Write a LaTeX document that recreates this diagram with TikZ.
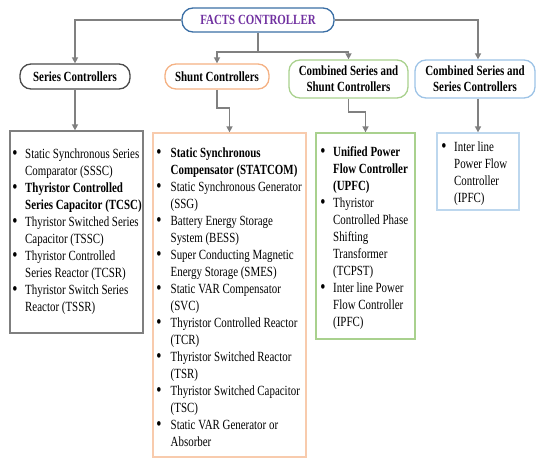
\documentclass[tikz,border=0pt]{standalone}
\usepackage{fontspec}
\setmainfont{Liberation Serif}[FakeStretch=0.78]
\usetikzlibrary{arrows.meta}
\definecolor{factsblue}{HTML}{3A6EA5}
\definecolor{factspurple}{HTML}{7030A0}
\definecolor{conngray}{HTML}{808080}
\definecolor{sergray}{HTML}{4A4A4A}
\definecolor{serlist}{HTML}{7F7F7F}
\definecolor{shorange}{HTML}{F4B183}
\definecolor{shlist}{HTML}{F8CBAD}
\definecolor{grn}{HTML}{A9D18E}
\definecolor{blu}{HTML}{9DC3E6}
\definecolor{blulist}{HTML}{BDD7EE}
\newcommand\lstfont{\fontsize{14}{17}\selectfont}
\newcommand\hdrfont{\bfseries\fontsize{14}{16}\selectfont}
\newcommand\bulglyph{{\fontsize{17}{17}\selectfont\bfseries\textbullet}}
\newcommand\bu{\makebox[12.5pt][l]{\bulglyph}}
\newcommand\ind{\hspace*{12.5pt}}
\newcommand\bus{\makebox[14pt][l]{\bulglyph}}
\newcommand\inds{\hspace*{14pt}}
\begin{document}
\begin{tikzpicture}[x=1pt,y=-1pt,
  hdr/.style={draw, line width=1.3pt, rounded corners=11pt, inner sep=0pt, align=center, font=\hdrfont},
  listbox/.style={draw, line width=1.3pt, inner sep=0pt},
  listtext/.style={anchor=north west, inner sep=0pt, align=left, font=\lstfont},
  conn/.style={draw=conngray, line width=1.5pt, -{Triangle[width=6pt,length=6pt]}},
  plain/.style={draw=conngray, line width=1.5pt}]
\useasboundingbox (0,0) rectangle (537,458);
% headers
\node[hdr, draw=factsblue, text=factspurple, minimum width=152pt, minimum height=24pt] (facts) at (258,20) {FACTS CONTROLLER};
\node[hdr, draw=sergray, minimum width=110pt, minimum height=25pt] (sh) at (75,76.5) {Series Controllers};
\node[hdr, draw=shorange, minimum width=104pt, minimum height=25pt] (shh) at (217,76.5) {Shunt Controllers};
\node[hdr, draw=grn, minimum width=119pt, minimum height=38pt] (gh) at (348.5,79) {Combined Series and\\Shunt Controllers};
\node[hdr, draw=blu, minimum width=120pt, minimum height=38pt] (bh) at (475,79) {Combined Series and\\Series Controllers};
% list boxes
\node[listbox, draw=serlist, minimum width=133pt, minimum height=202pt] (sl) at (76.5,232) {};
\node[listbox, draw=shlist, minimum width=153pt, minimum height=324pt] (shl) at (229.5,295) {};
\node[listbox, draw=grn, minimum width=99pt, minimum height=206pt] (gl) at (365.5,236) {};
\node[listbox, draw=blulist, minimum width=82pt, minimum height=77pt] (bl) at (478,171.5) {};
% list texts
\node[listtext] (slt) at (12.5,146.6) {\strut\bu Static Synchronous Series\\
\ind Comparator (SSSC)\\
\bu\textbf{Thyristor Controlled}\\
\ind\textbf{Series Capacitor (TCSC)}\\
\bu Thyristor Switched Series\\
\ind Capacitor (TSSC)\\
\bu Thyristor Controlled\\
\ind Series Reactor (TCSR)\\
\bu Thyristor Switch Series\\
\ind Reactor (TSSR)};
\node[listtext] (shlt) at (156.5,145.6) {\strut\bus\textbf{Static Synchronous}\\
\inds\textbf{Compensator (STATCOM)}\\
\bus Static Synchronous Generator\\
\inds(SSG)\\
\bus Battery Energy Storage\\
\inds System (BESS)\\
\bus Super Conducting Magnetic\\
\inds Energy Storage (SMES)\\
\bus Static VAR Compensator\\
\inds(SVC)\\
\bus Thyristor Controlled Reactor\\
\inds(TCR)\\
\bus Thyristor Switched Reactor\\
\inds(TSR)\\
\bus Thyristor Switched Capacitor\\
\inds(TSC)\\
\bus Static VAR Generator or\\
\inds Absorber};
\node[listtext] (glt) at (320.5,144.6) {\strut\bu\textbf{Unified Power}\\
\ind\textbf{Flow Controller}\\
\ind\textbf{(UPFC)}\\
\bu Thyristor\\
\ind Controlled Phase\\
\ind Shifting\\
\ind Transformer\\
\ind(TCPST)\\
\bu Inter line Power\\
\ind Flow Controller\\
\ind(IPFC)};
\node[listtext] (blt) at (441.5,139.6) {\strut\bu Inter line\\
\ind Power Flow\\
\ind Controller\\
\ind(IPFC)};
% connectors
\coordinate (fork) at (258,52);
\coordinate (sbend) at (217,108);
\coordinate (gbend) at (348.5,112);
\draw[conn] (facts.west) -| (sh.north);
\draw[conn] (facts.east) -| (bl.north |- bh.north);
\draw[plain] (facts.south) -- (fork);
\draw[conn] (fork) -| (shh.north);
\draw[conn] (fork) -| (gh.north);
\draw[conn] (sh.south) -- (sh.south |- sl.north);
\draw[conn] (shh.south) -- (sbend) -| (shl.north);
\draw[conn] (gh.south) -- (gbend) -| (gl.north);
\draw[conn] (bh.south -| bl.north) -- (bl.north);
\end{tikzpicture}
\end{document}
